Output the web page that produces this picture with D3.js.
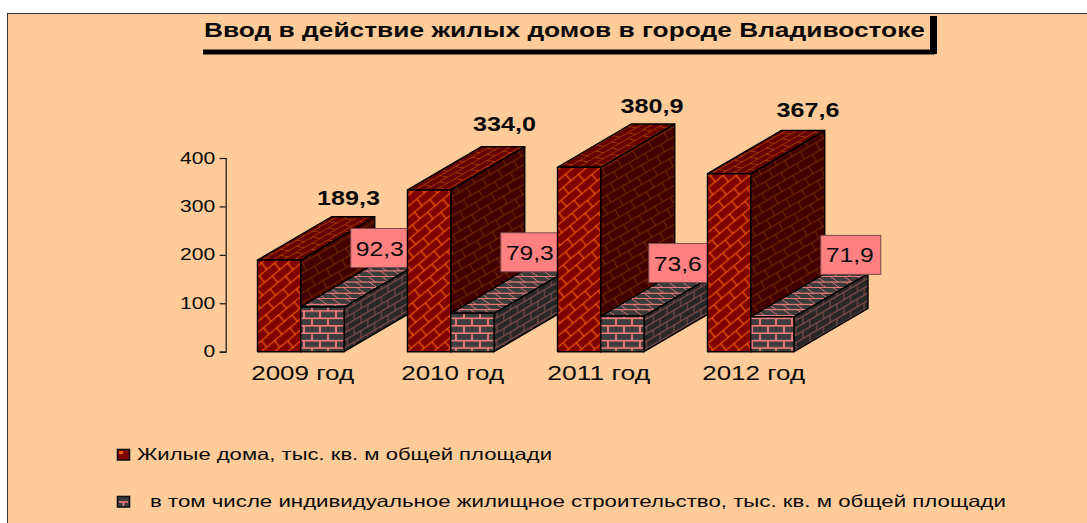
<!DOCTYPE html>
<html><head><meta charset="utf-8">
<script src="https://cdn.jsdelivr.net/npm/d3@7/dist/d3.min.js"></script>
<style>html,body{margin:0;padding:0;background:#fff;overflow:hidden}svg{display:block}text{font-family:"Liberation Sans",Arial,sans-serif;fill:#0a0a0a}</style>
</head><body><svg id="c" width="1087" height="523"></svg>
<script>
const titleText = "Ввод в действие жилых домов в городе Владивостоке";
const categories = ["2009 год","2010 год","2011 год","2012 год"];
const housing = [189.3,334.0,380.9,367.6];
const individual = [92.3,79.3,73.6,71.9];
const housingLabels = ["189,3","334,0","380,9","367,6"];
const individualLabels = ["92,3","79,3","73,6","71,9"];
const yTicks = [0,100,200,300,400];
const legendNames = ["Жилые дома, тыс. кв. м общей площади","в том числе индивидуальное жилищное строительство, тыс. кв. м общей площади"];
// hand-placed label nudges in the original, relative to each bar
const housingLabelNudge = [[91,-55],[97,-59],[94.5,-54],[100.5,-57]];
const individualLabelNudge = [[80,-59],[80,-61],[78,-53],[100,-62]];
const categoryLabelNudge = [2,2,-2,3];

const svg = d3.select("#c"), defs = svg.append("defs");
const axisX = 225.7, baseY = 351.7, topY = 158;
const y = d3.scaleLinear().domain([0,400]).range([baseY,topY]);
const x0 = d3.scaleBand().domain(categories).range([axisX,axisX+600]);
const x1 = d3.scaleBand().domain(["housing","individual"]).range([31.8,118.3]);
const depthX = 74, depthY = 43.3;
const k = depthY/depthX;

// brick pattern: w long, h tall, running bond
function brick(id, w, h, fill, mortar, sw, transform){
  const p = defs.append("pattern").attr("id",id).attr("patternUnits","userSpaceOnUse")
    .attr("width",w).attr("height",h*2).attr("patternTransform",transform);
  p.append("rect").attr("width",w).attr("height",h*2).attr("fill",fill);
  p.append("path").attr("fill","none").attr("stroke",mortar).attr("stroke-width",sw)
    .attr("d",`M0 ${h/2}H${w}M0 ${h*1.5}H${w}M${w/4} ${h/2}V${h*1.5}M${w*3/4} ${h*1.5}V${h*2}M${w*3/4} 0V${h/2}`);
}
brick("pFront",20,8.5,"#800000","#ff6600",1.1,"translate(257,250) rotate(-40)");
brick("pSide",20,8.5,"#420000","#7a2e00",1,"matrix(0.78 -0.45 0.5 0.86 300 250)");
brick("pTop",20,8.5,"#640000","#c05000",1,"matrix(0.8 -0.46 0.9 0.18 257 260)");
brick("pFrontS",16,7.4,"#3e3e3e","#ff8080",1.7,"translate(300,351.7)");
brick("pSideS",16,7.4,"#272727","#7d4a4a",1.3,`matrix(0.85 ${-k*0.85} 0 1 344 351.7)`);
brick("pTopS",16,7.4,"#3c3c3c","#e87878",1.5,`matrix(0.85 0 ${0.85/k*0.75} 0.75 300 307)`);

// frame
svg.append("rect").attr("x",7.5).attr("y",13.5).attr("width",1085).attr("height",515)
  .attr("fill","#ffcc99").attr("stroke","#333").attr("stroke-width",1);

// text helper: the original is stretched horizontally
function label(sel, str, px, py, size, len, anchor, weight){
  return sel.append("text").attr("x",px).attr("y",py).attr("font-size",size)
    .attr("text-anchor",anchor||"start").attr("font-weight",weight||"normal")
    .attr("textLength",len).attr("lengthAdjust","spacingAndGlyphs").text(str);
}

// title
label(svg,titleText,204,37,20,721,"start","bold");
svg.append("path").attr("fill","none").attr("stroke","#000").attr("stroke-width",5)
  .attr("d","M203 52H934.5");
svg.append("path").attr("fill","none").attr("stroke","#000").attr("stroke-width",7)
  .attr("d","M933.5 16V54");

// axis
const axis = d3.axisLeft(y).tickValues(yTicks).tickSize(6).tickPadding(4).tickFormat(d3.format("d"));
const ga = svg.append("g").attr("transform",`translate(${axisX},0)`).call(axis);
ga.selectAll("path,line").attr("stroke","#111").attr("stroke-width",1.2);
ga.selectAll("text").each(function(d){
  d3.select(this).attr("font-size",17).attr("dy",null).attr("y",5).attr("x",-10.5)
    .attr("textLength",String(d).length*11.7).attr("lengthAdjust","spacingAndGlyphs");
});
ga.attr("font-family",null).attr("font-size",null);

function box3d(g, left, width, value, fills){
  const top = y(value), right = left+width;
  const poly=(pts,f)=>g.append("polygon").attr("points",pts.map(q=>q.join(",")).join(" ")).attr("fill",f)
    .attr("stroke","#000").attr("stroke-width",1.4).attr("stroke-linejoin","round");
  poly([[right,baseY],[right+depthX,baseY-depthY],[right+depthX,top-depthY],[right,top]],fills[1]);
  poly([[left,top],[left+depthX,top-depthY],[right+depthX,top-depthY],[right,top]],fills[2]);
  poly([[left,baseY],[left,top],[right,top],[right,baseY]],fills[0]);
}

categories.forEach((c,i)=>{
  const g = svg.append("g");
  const xH = x0(c)+x1("housing"), xI = x0(c)+x1("individual"), w = x1.bandwidth();
  box3d(g,xH,w,housing[i],["url(#pFront)","url(#pSide)","url(#pTop)"]);
  box3d(g,xI,w,individual[i],["url(#pFrontS)","url(#pSideS)","url(#pTopS)"]);
  // individual value box (the next category is painted over it)
  const cx = xI+individualLabelNudge[i][0], cy = y(individual[i])+individualLabelNudge[i][1];
  g.append("rect").attr("x",cx-30).attr("y",cy-19.5).attr("width",60).attr("height",39)
    .attr("fill","#ff8080").attr("stroke","#7a4a4a").attr("stroke-width",1);
  label(g,individualLabels[i],cx-1,cy+7.5,21,48,"middle");
  // housing value
  label(g,housingLabels[i],xH+housingLabelNudge[i][0],y(housing[i])+housingLabelNudge[i][1],20.5,63,"middle","bold");
  // category
  label(g,c,x0(c)+x0.bandwidth()/2+categoryLabelNudge[i],380,21,103,"middle");
});

// legend
const legend = svg.append("g");
[["#800000","#f06000"],["#3c3c3c","#ff8080"]].forEach((col,i)=>{
  const ly = [455,502][i];
  legend.append("rect").attr("x",117.5).attr("y",ly-5.5).attr("width",12).attr("height",10.5)
    .attr("fill",col[0]).attr("stroke","#111").attr("stroke-width",1.6);
  if(i===0) legend.append("rect").attr("x",119).attr("y",ly-4).attr("width",4).attr("height",3).attr("fill",col[1]);
  else legend.append("path").attr("d",`M119 ${ly}H128M123.5 ${ly}V${ly+4}`).attr("stroke",col[1]).attr("stroke-width",1.5);
});
label(legend,legendNames[0],137,460,16.5,415);
label(legend,legendNames[1],150,507,16.5,856);
</script></body></html>
